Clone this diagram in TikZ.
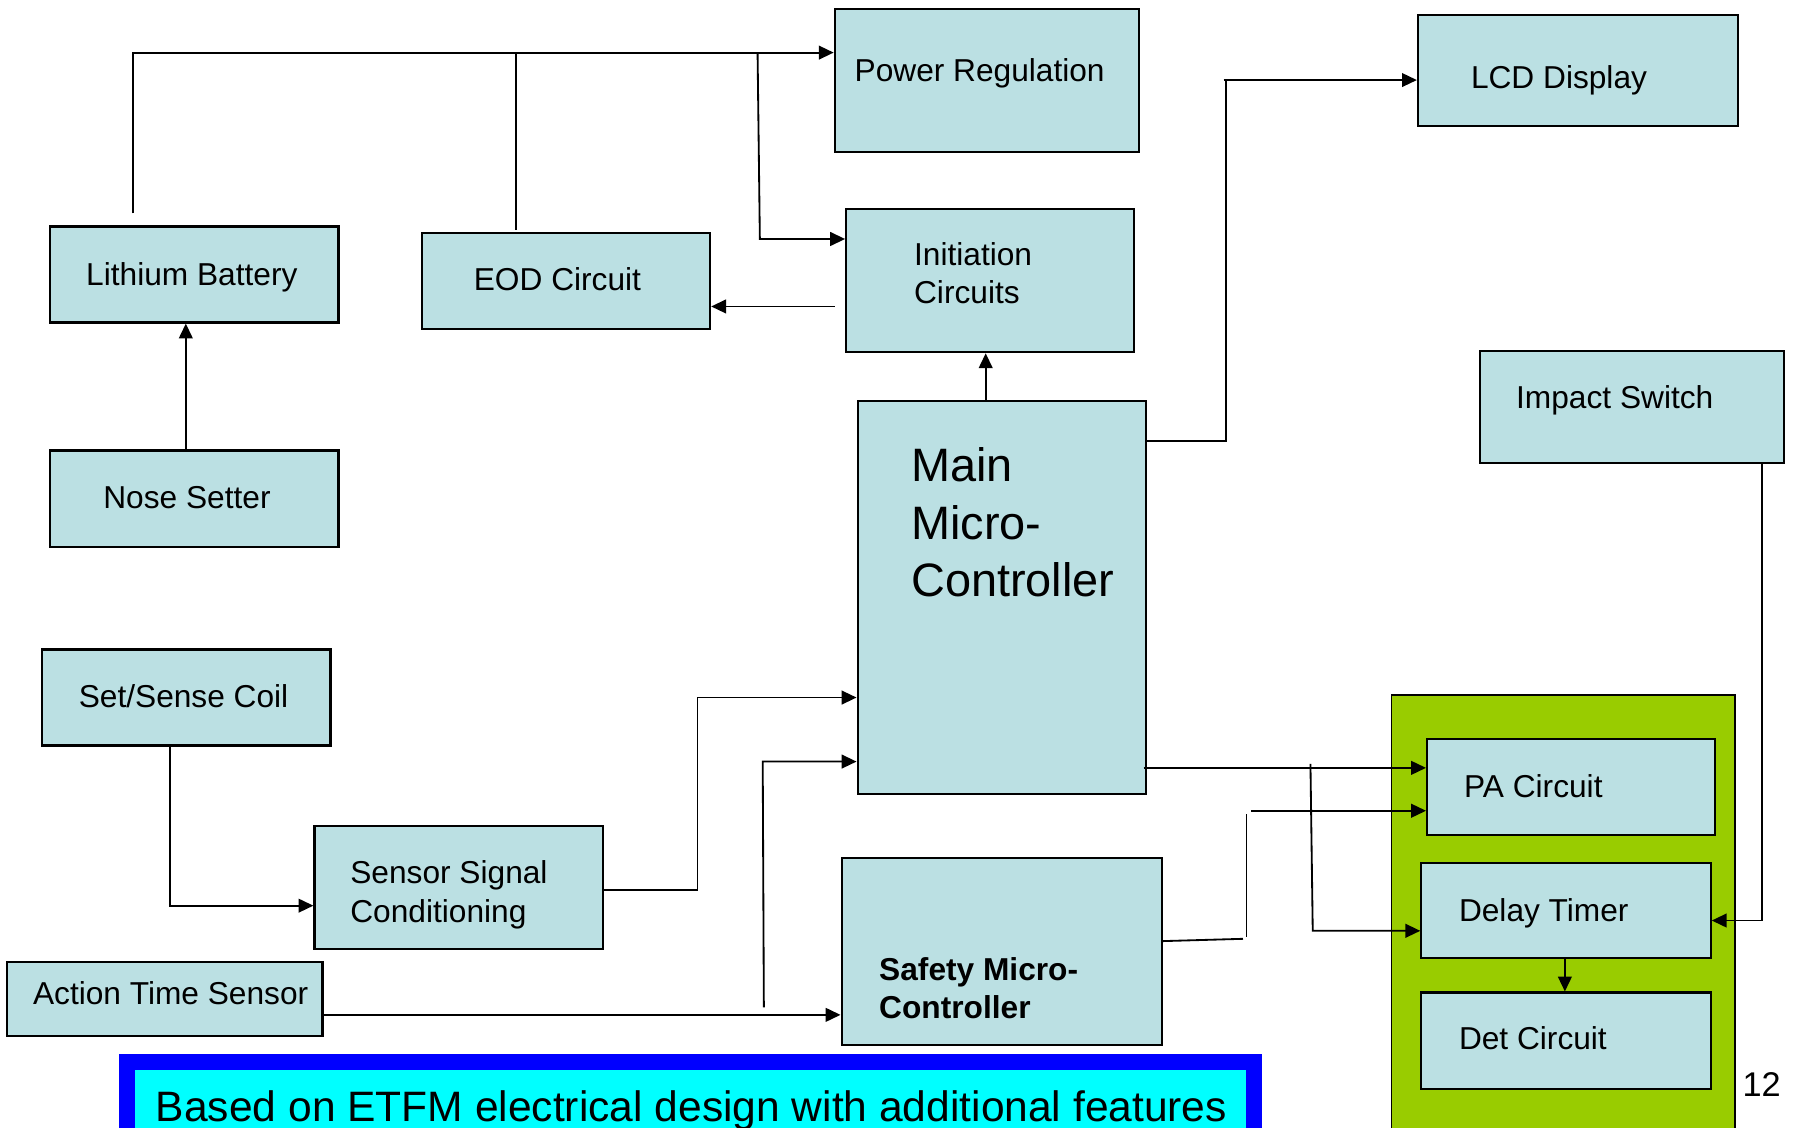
\documentclass[tikz,border=0pt]{standalone}
\usepackage{fontspec}
\setmainfont{Liberation Sans}
\usetikzlibrary{arrows.meta,fit,calc}
\definecolor{boxfill}{HTML}{BBE0E3}
\definecolor{grn}{HTML}{99CC00}
\definecolor{bannerblue}{HTML}{0000FF}
\definecolor{bannercyan}{HTML}{00FFFF}
\begin{document}
\begin{tikzpicture}[x=0.5pt,y=-0.5pt,
  box/.style={draw=black,line width=0.95pt,fill=boxfill,inner sep=0pt,rectangle},
  txt/.style={anchor=base west,inner sep=0pt,font=\fontsize{13.85}{16}\selectfont},
  btxt/.style={anchor=base west,inner sep=0pt,font=\fontsize{13.85}{16}\selectfont\bfseries},
  bigtxt/.style={anchor=base west,inner sep=0pt,font=\fontsize{20.5}{24}\selectfont},
  ln/.style={line width=0.8pt},
  arr/.style={line width=0.8pt,-{Triangle[length=6.5pt,width=6pt]}}]
\useasboundingbox (0,0) rectangle (1568,986);
\clip (0,0) rectangle (1568,986);

% group and banner backgrounds
\node[draw=black,line width=0.7pt,fill=grn,inner sep=0pt,fit={(1217,608) (1517,1020)}] (grp) {};
\node[draw=bannerblue,line width=7pt,fill=bannercyan,inner sep=0pt,fit={(111,929) (1097,1030)}] (banner) {};

% boxes
\node[box,fit={(730,8) (996,133)}] (pr) {};
\node[box,fit={(1240,13) (1520,110)}] (lcd) {};
\node[box,fit={(44,198) (296,282)}] (bat) {};
\node[box,fit={(369,204) (621,288)}] (eod) {};
\node[box,fit={(740,183) (992,308)}] (init) {};
\node[box,fit={(1294,307) (1560,405)}] (imp) {};
\node[box,fit={(44,394) (296,478)}] (nose) {};
\node[box,fit={(750,351) (1002,694)}] (main) {};
\node[box,fit={(37,568) (289,652)}] (coil) {};
\node[box,fit={(275,722) (527,830)}] (ssc) {};
\node[box,fit={(6,841) (282,906)}] (ats) {};
\node[box,fit={(736,750) (1016,914)}] (safe) {};
\node[box,fit={(1248,646) (1500,730)}] (pa) {};
\node[box,fit={(1243,755) (1496,838)}] (delay) {};
\node[box,fit={(1243,868) (1496,952)}] (det) {};

% texts
\node[txt] (tpr) at (747,71.5) {Power Regulation};
\node[txt] (tlcd) at (1286,77) {LCD Display};
\node[txt] (tbat) at (75,249.5) {Lithium Battery};
\node[txt] (teod) at (414,254) {EOD Circuit};
\node[txt] (tinit1) at (799,232) {Initiation};
\node[txt] (tinit2) at (799,265.5) {Circuits};
\node[txt] (timp) at (1325.5,357) {Impact Switch};
\node[txt] (tnose) at (90,445) {Nose Setter};
\node[bigtxt] (tmain1) at (796.5,421) {Main};
\node[bigtxt] (tmain2) at (796.5,471.5) {Micro-};
\node[bigtxt] (tmain3) at (796.5,522) {Controller};
\node[txt] (tcoil) at (68.5,619) {Set/Sense Coil};
\node[txt] (tssc1) at (306,773) {Sensor Signal};
\node[txt] (tssc2) at (306,806.5) {Conditioning};
\node[txt] (tats) at (28.5,878.6) {Action Time Sensor};
\node[btxt] (tsafe1) at (768.5,857.7) {Safety Micro-};
\node[btxt] (tsafe2) at (768.5,890.7) {Controller};
\node[txt] (tpa) at (1280,697) {PA Circuit};
\node[txt] (tdelay) at (1275.5,805.5) {Delay Timer};
\node[txt] (tdet) at (1275.5,918) {Det Circuit};
\node[anchor=base west,inner sep=0pt,font=\fontsize{15}{18}\selectfont] (pg) at (1523.5,958.5) {12};
\node[anchor=base west,inner sep=0pt,font=\fontsize{18.6}{22}\selectfont] (tban) at (136,981) {Based on ETFM electrical design with additional features};

% connectors
\draw[arr] (116,186.5) -- (116,46) -- (pr.west |- 0,46);
\draw[ln] (451,201) -- (451,46);
\draw[arr] (662.5,46) -- (664.5,209) -- (init.west |- 0,209);
\draw[arr] (730,268) -- (eod.east |- 0,268);
\draw[arr] (nose.north -| 162.5,0) -- (bat.south -| 162.5,0);
\draw[arr] (main.north -| 862,0) -- (init.south -| 862,0);
\draw[ln] (main.east |- 0,386) -- (1072,386) -- (1072,70);
\draw[arr] (1070,70) -- (lcd.west |- 0,70);
\draw[arr] (coil.south -| 149,0) -- (149,792) -- (ssc.west |- 0,792);
\draw[arr] (ssc.east |- 0,778) -- (610,778) -- (610,610) -- (main.west |- 0,610);
\draw[arr] (282,887.5) -- (safe.west |- 0,887.5);
\draw[arr] (668,881) -- (667,666) -- (main.west |- 0,666);
\draw[arr] (1000,671.5) -- (pa.west |- 0,671.5);
\draw[arr] (1146,668) -- (1148,814) -- (delay.west |- 0,814);
\draw[ln] (safe.east |- 0,823) -- (1087,821);
\draw[ln] (1090,819) -- (1090,712);
\draw[arr] (1094,709) -- (pa.west |- 0,709);
\draw[arr] (imp.south -| 1541,0) -- (1541,805) -- (delay.east |- 0,805);
\draw[arr] (delay.south -| 1368.5,0) -- (det.north -| 1368.5,0);
\end{tikzpicture}
\end{document}
